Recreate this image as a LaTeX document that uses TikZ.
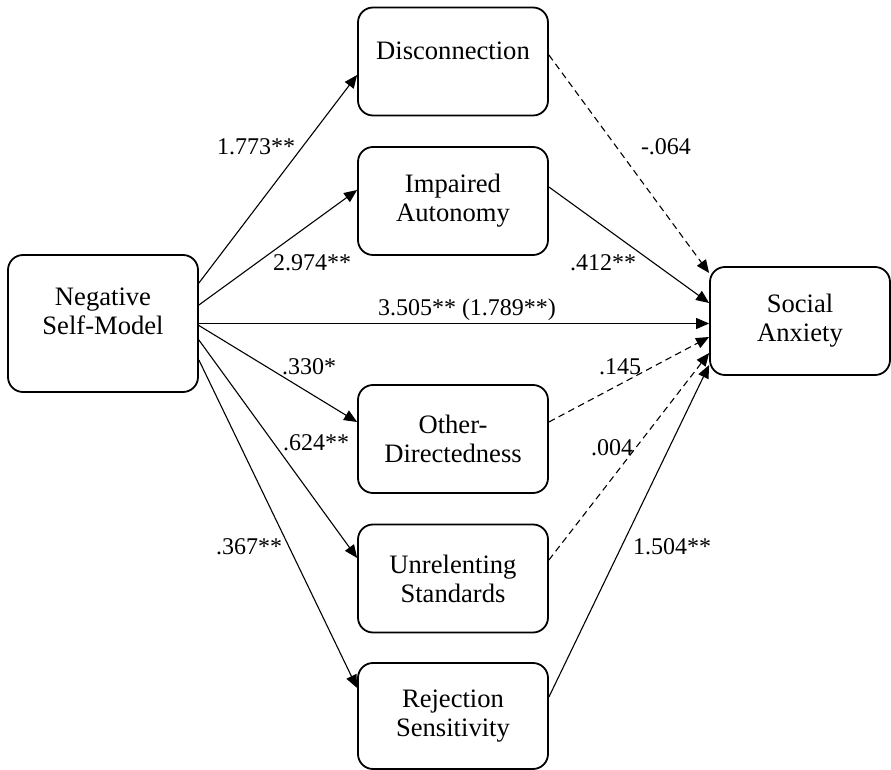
\documentclass[tikz,border=0pt]{standalone}
\usepackage{fontspec}
\setmainfont{Liberation Serif}
\usetikzlibrary{arrows.meta}

\begin{document}
\begin{tikzpicture}[x=0.5pt, y=-0.5pt,
	box/.style={draw, line width=0.9pt, rounded corners=7.5pt, align=center, minimum width=95pt, minimum height=54pt, font=\fontsize{13.3}{14.5}\selectfont},
	lbl/.style={font=\fontsize{12}{14}\selectfont, inner sep=1pt},
	arr/.style={-{Triangle[length=6.5pt,width=5.5pt]}, line width=0.55pt},
	ns/.style={arr, dash pattern=on 3.3pt off 2.2pt}]
	\useasboundingbox (0,0) rectangle (891,770);
	\node[box, minimum height=68.5pt, text depth=12pt] (nsm) at (103,323.5) {Negative\\Self-Model};
	\node[box, text depth=11pt] (dis) at (453,61.5) {Disconnection};
	\node[box] (imp) at (453,201) {Impaired\\Autonomy};
	\node[box] (oth) at (453,439) {Other-\\Directedness};
	\node[box] (unr) at (453,578.5) {Unrelenting\\Standards};
	\node[box, minimum height=53pt] (rej) at (453,716) {Rejection\\Sensitivity};
	\node[box, minimum width=90pt] (sa) at (800,321) {Social\\Anxiety};
	% paths a
	\draw[arr] ([yshift=20.25pt]nsm.east) -- ([yshift=-6.75pt]dis.west);
	\draw[arr] ([yshift=9.25pt]nsm.east) -- ([yshift=5.5pt]imp.west);
	\draw[arr] ([yshift=-1pt]nsm.east) -- ([yshift=8.5pt]oth.west);
	\draw[arr] ([yshift=-8.25pt]nsm.east) -- ([yshift=10.25pt]unr.west);
	\draw[arr] ([yshift=-18.25pt]nsm.east) -- ([yshift=14pt]rej.west);
	% direct path c
	\draw[arr] (nsm.east) -- (nsm.east -| sa.west);
	% paths b
	\draw[ns] ([yshift=3.25pt]dis.east) -- ([yshift=24pt]sa.west);
	\draw[arr] ([yshift=7pt]imp.east) -- ([yshift=9pt]sa.west);
	\draw[ns] ([yshift=8.5pt]oth.east) -- ([yshift=-8pt]sa.west);
	\draw[ns] ([yshift=9.25pt]unr.east) -- ([yshift=-16pt]sa.west);
	\draw[arr] ([yshift=9.5pt]rej.east) -- ([yshift=-22pt]sa.west);
	% coefficients
	\node[lbl] (a-dis) at (256,147) {1.773**};
	\node[lbl] (a-imp) at (312,263) {2.974**};
	\node[lbl] (a-oth) at (309,367) {.330*};
	\node[lbl] (a-unr) at (316,443) {.624**};
	\node[lbl] (a-rej) at (249,547) {.367**};
	\node[lbl] (c) at (467,310) {3.505** (1.789**)};
	\node[lbl] (b-dis) at (666,147) {-.064};
	\node[lbl] (b-imp) at (603,263) {.412**};
	\node[lbl] (b-oth) at (620,367) {.145};
	\node[lbl] (b-unr) at (612,448) {.004};
	\node[lbl] (b-rej) at (672,547) {1.504**};
\end{tikzpicture}
\end{document}
